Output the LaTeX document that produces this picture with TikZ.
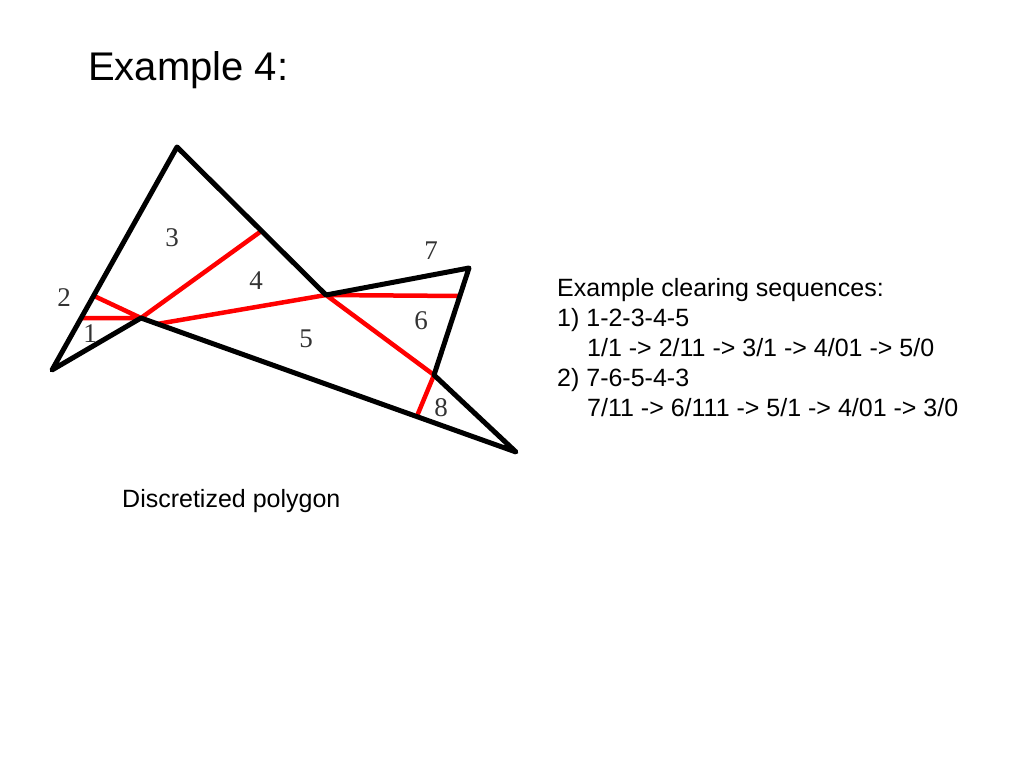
\documentclass[tikz,border=0pt]{standalone}
\usepackage{fontspec}
\setmainfont{Liberation Sans}
\newfontfamily\serifnum{Liberation Serif}
\begin{document}
\begin{tikzpicture}[x=1pt,y=-1pt,
  edge/.style={line width=5pt,line cap=round,line join=round},
  cut/.style={red,line width=4.5pt},
  num/.style={font=\serifnum\fontsize{27}{27}\selectfont,color=black!80}]
\useasboundingbox (0,0) rectangle (1024,768);
\coordinate (a) at (52,370);
\coordinate (b) at (177,147);
\coordinate (c) at (326,295);
\coordinate (d) at (469,268);
\coordinate (e) at (434,375);
\coordinate (f) at (516,452);
\coordinate (g) at (141,318);
\coordinate (p2) at (92,295);
\coordinate (p1) at (82,318);
\coordinate (p3) at (260,232);
\coordinate (p5) at (157,324);
\coordinate (p7) at (462,296);
\coordinate (p8) at (417,416);
\draw[cut] (p2) -- (g) (p1) -- (g) (g) -- (p3) (p5) -- (c) (c) -- (p7) (c) -- (e) (e) -- (p8);
\draw[edge] (a) -- (b) -- (c) -- (d) -- (e) -- (f) -- (g) -- cycle;
\node[num] (n1) at (90,334) {1};
\node[num] (n2) at (64,298) {2};
\node[num] (n3) at (172,238) {3};
\node[num] (n4) at (256,281) {4};
\node[num] (n5) at (306,339) {5};
\node[num] (n6) at (421,321) {6};
\node[num] (n7) at (431,251) {7};
\node[num] (n8) at (441,408) {8};
\node[anchor=base west,inner sep=0pt,font=\fontsize{40}{40}\selectfont] (t) at (88,80) {Example 4:};
\node[anchor=base west,inner sep=0pt,font=\fontsize{25}{25}\selectfont] (cap) at (122,507) {Discretized polygon};
\node[anchor=base west,align=left,inner sep=0pt,font=\fontsize{25}{30}\selectfont] (seq) at (557,416)
 {Example clearing sequences:\\
  1) 1-2-3-4-5\\
  \hspace*{30pt}1/1 -> 2/11 -> 3/1 -> 4/01 -> 5/0\\
  2) 7-6-5-4-3\\
  \hspace*{30pt}7/11 -> 6/111 -> 5/1 -> 4/01 -> 3/0};
\end{tikzpicture}
\end{document}
